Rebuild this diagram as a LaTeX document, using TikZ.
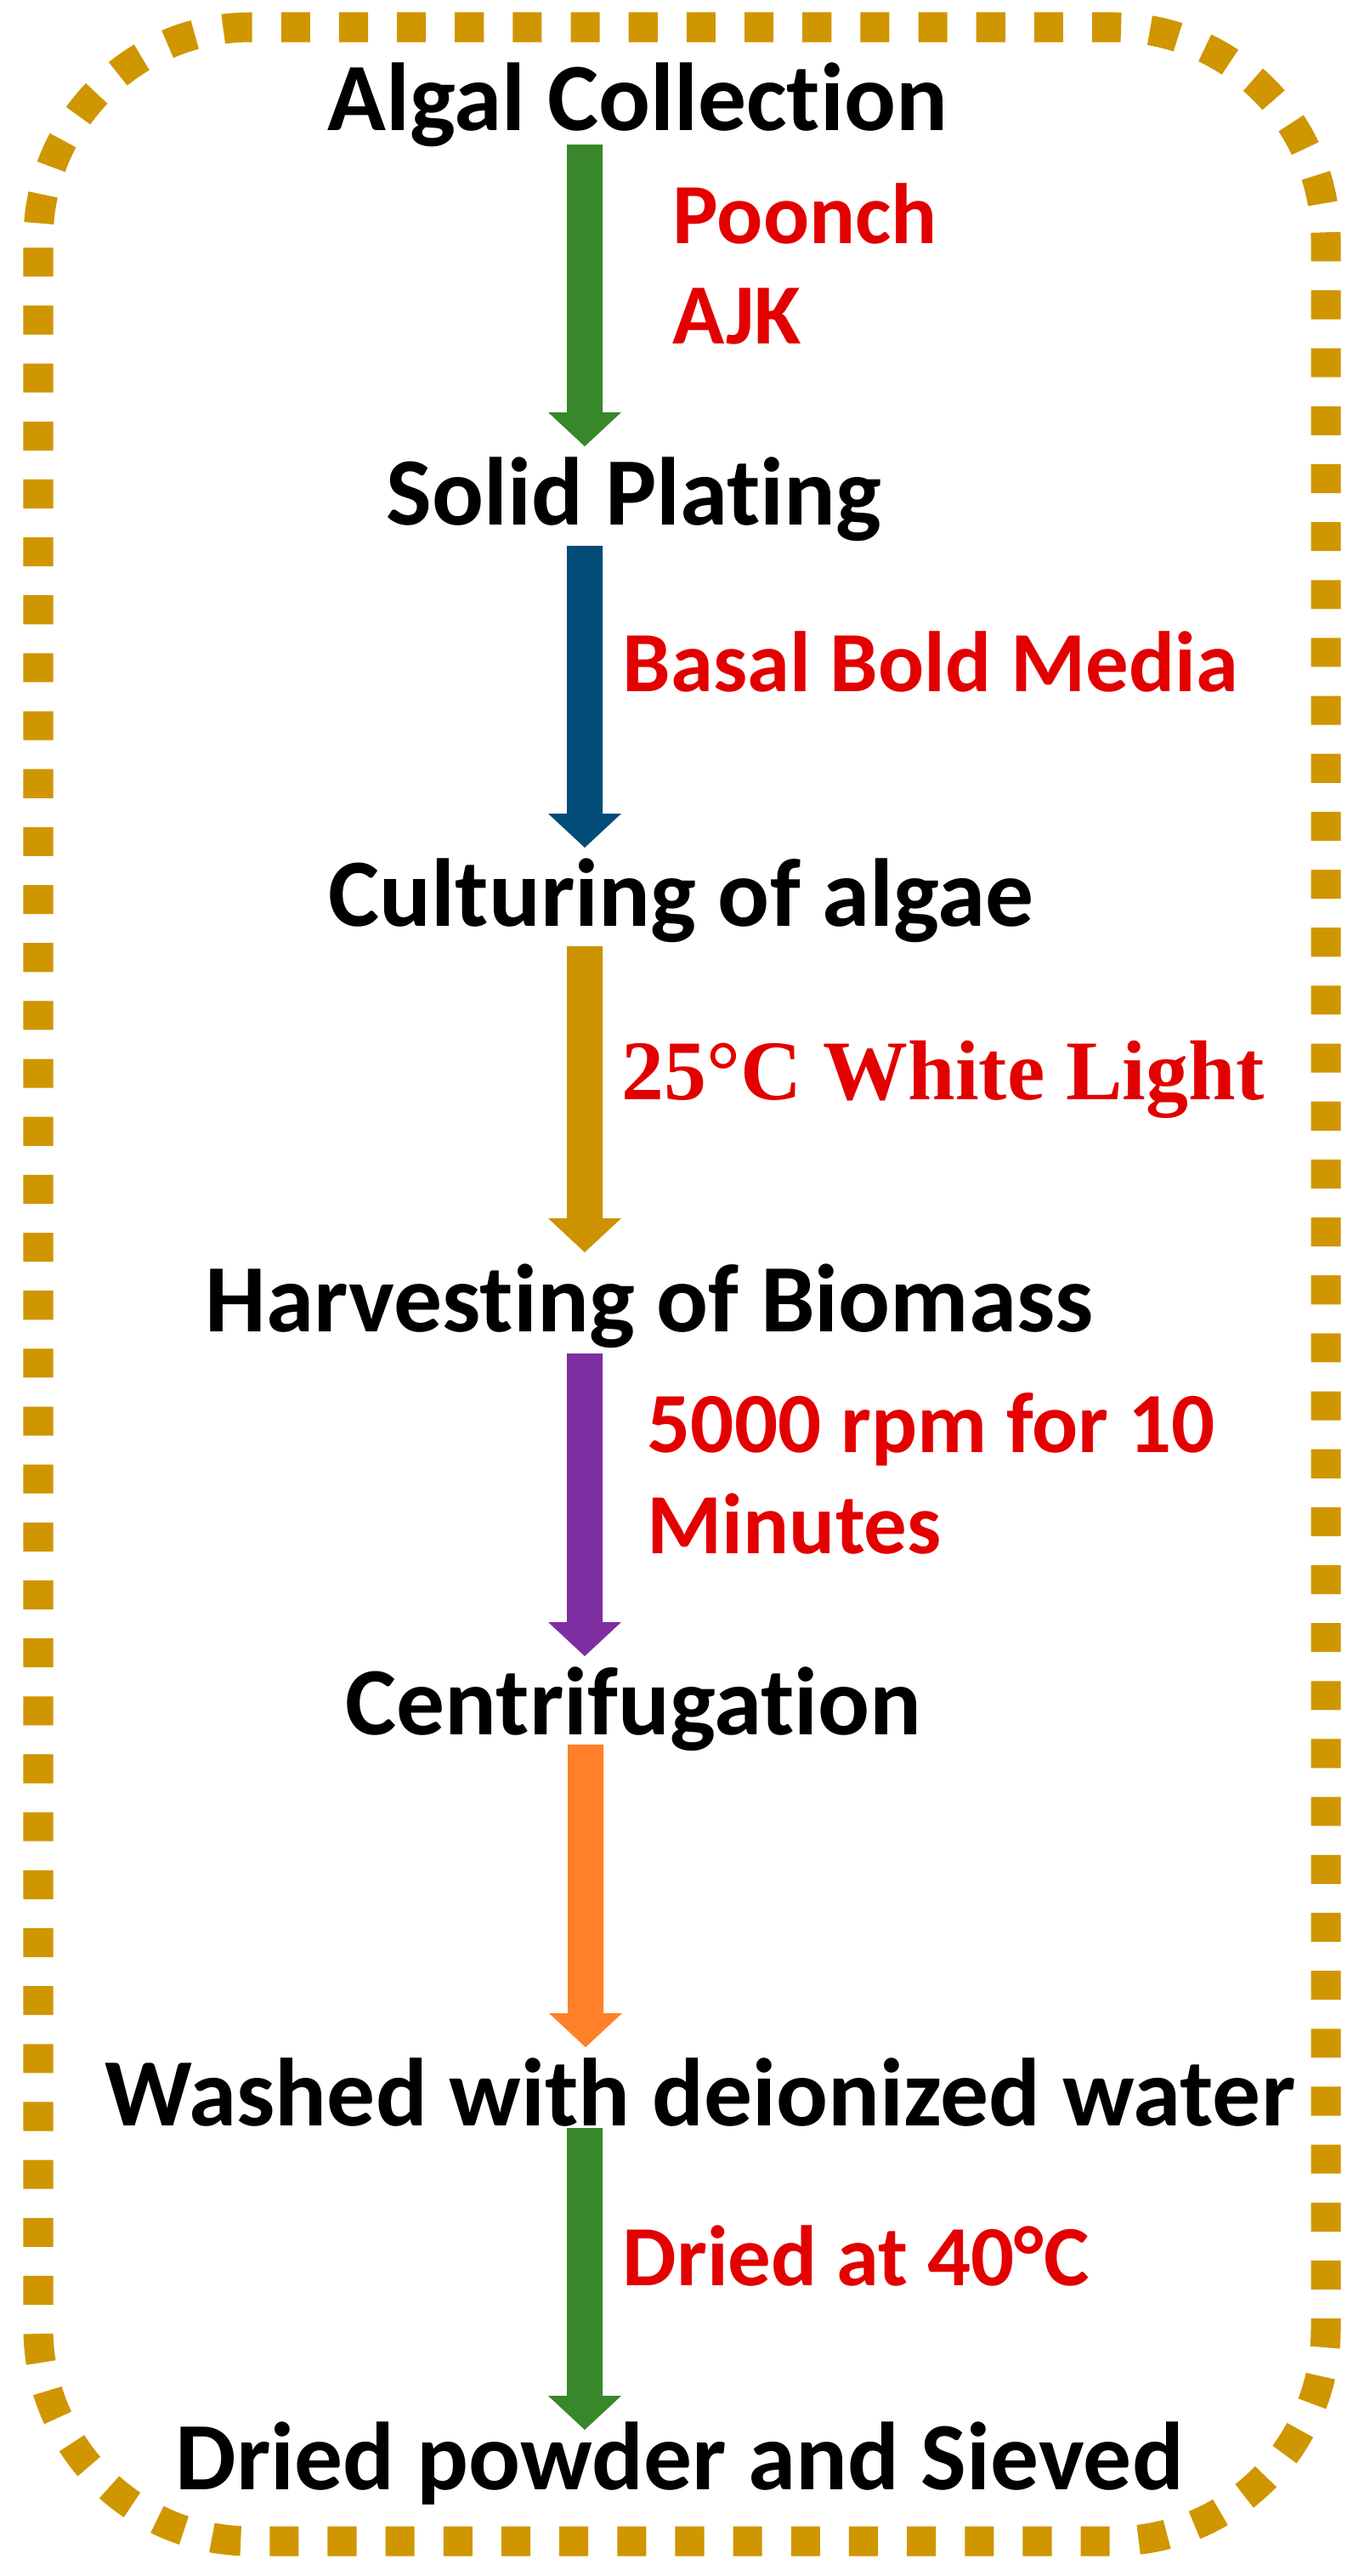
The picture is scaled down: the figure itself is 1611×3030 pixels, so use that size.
\documentclass[tikz,border=0pt]{standalone}
\usepackage{fontspec}
\setmainfont{Carlito}[Ligatures={NoCommon}]
\newfontfamily\tnr{Liberation Serif}
\usetikzlibrary{calc}
\definecolor{bordergold}{RGB}{208,150,0}
\definecolor{arrgreen}{RGB}{56,135,42}
\definecolor{arrblue}{RGB}{2,76,120}
\definecolor{arrgold}{RGB}{204,146,0}
\definecolor{arrpurple}{RGB}{125,46,160}
\definecolor{arrorange}{RGB}{255,128,40}
\definecolor{labred}{RGB}{226,0,0}
\newcommand\blockarrow[3]{%
  \fill[#1] ($(#2)+(-21,0)$) -- ($(#2)+(21,0)$) -- ($(#3)+(21,-40)$) -- ($(#3)+(43,-40)$)
    -- (#3) -- ($(#3)+(-43,-40)$) -- ($(#3)+(-21,-40)$) -- cycle;}
\tikzset{
  steptitle/.style={anchor=base west, inner sep=0pt, text=black,
    font=\fontsize{32.3pt}{38pt}\selectfont\bfseries},
  steplabel/.style={anchor=base west, inner sep=0pt, text=labred,
    font=\fontsize{28.7pt}{34pt}\selectfont\bfseries},
  frame/.style={draw=bordergold, line width=0.35cm, dash pattern=on 0.3406cm off 0.3406cm,
    dash phase=0.59cm, rounded corners=2.5cm}
}
\begin{document}
\begin{tikzpicture}[x=0.01cm,y=-0.01cm]
\useasboundingbox (0,0) rectangle (1611,3030);
\fill[white] (0,0) rectangle (1611,3030);
\draw[frame] (45,32) rectangle (1560,2989);

% step titles
\node[steptitle] (t1) at (385,153) {Algal Collection};
\node[steptitle] (t2) at (454,617) {Solid Plating};
\node[steptitle] (t3) at (386,1089) {Culturing of algae};
\node[steptitle] (t4) at (241,1566) {Harvesting of Biomass};
\node[steptitle] (t5) at (406,2040) {Centrifugation};
\node[steptitle] (t6) at (123,2500) {Washed with deionized water};
\node[steptitle] (t7) at (206,2928) {Dried powder and Sieved};

% labels
\node[steplabel] (l1a) at (791,286) {Poonch};
\node[steplabel] (l1b) at (791,404) {AJK};
\node[steplabel] (l2) at (732,813) {Basal Bold Media};
\node[steplabel, font=\fontsize{28.4pt}{34pt}\selectfont\tnr\bfseries] (l3) at (731,1293) {25°C White Light};
\node[steplabel] (l4a) at (761,1708) {5000 rpm for 10};
\node[steplabel] (l4b) at (761,1827) {Minutes};
\node[steplabel] (l6) at (732,2688) {Dried at 40°C};

% arrow ends
\coordinate (a1s) at (688,170);  \coordinate (a1e) at (688,525);
\coordinate (a2s) at (688,642);  \coordinate (a2e) at (688,997);
\coordinate (a3s) at (688,1113); \coordinate (a3e) at (688,1473);
\coordinate (a4s) at (688,1592); \coordinate (a4e) at (688,1948);
\coordinate (a5s) at (689,2052); \coordinate (a5e) at (689,2408);
\coordinate (a6s) at (688,2503); \coordinate (a6e) at (688,2858);

\blockarrow{arrgreen}{a1s}{a1e}
\blockarrow{arrblue}{a2s}{a2e}
\blockarrow{arrgold}{a3s}{a3e}
\blockarrow{arrpurple}{a4s}{a4e}
\blockarrow{arrorange}{a5s}{a5e}
\blockarrow{arrgreen}{a6s}{a6e}
\end{tikzpicture}
\end{document}
